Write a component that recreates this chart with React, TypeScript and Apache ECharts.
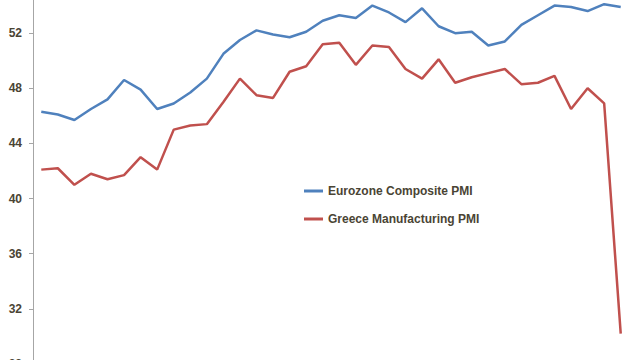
import React, { useEffect, useRef } from "react";
import * as echarts from "echarts";

const months = [
  "Apr-17", "May-17", "Jun-17", "Jul-17", "Aug-17", "Sep-17", "Oct-17", "Nov-17", "Dec-17",
  "Jan-18", "Feb-18", "Mar-18", "Apr-18", "May-18", "Jun-18", "Jul-18", "Aug-18", "Sep-18",
  "Oct-18", "Nov-18", "Dec-18", "Jan-19", "Feb-19", "Mar-19", "Apr-19", "May-19", "Jun-19",
  "Jul-19", "Aug-19", "Sep-19", "Oct-19", "Nov-19", "Dec-19", "Jan-20", "Feb-20", "Mar-20",
];

const eurozoneComposite = [
  46.3, 46.1, 45.7, 46.5, 47.2, 48.6, 47.9, 46.5, 46.9, 47.7, 48.7, 50.5,
  51.5, 52.2, 51.9, 51.7, 52.1, 52.9, 53.3, 53.1, 54.0, 53.5, 52.8, 53.8,
  52.5, 52.0, 52.1, 51.1, 51.4, 52.6, 53.3, 54.0, 53.9, 53.6, 54.1, 53.9,
];

const greeceManufacturing = [
  42.1, 42.2, 41.0, 41.8, 41.4, 41.7, 43.0, 42.1, 45.0, 45.3, 45.4, 47.0,
  48.7, 47.5, 47.3, 49.2, 49.6, 51.2, 51.3, 49.7, 51.1, 51.0, 49.4, 48.7,
  50.1, 48.4, 48.8, 49.1, 49.4, 48.3, 48.4, 48.9, 46.5, 48.0, 46.9, 30.2,
];

const seriesNames = ["Eurozone Composite PMI", "Greece Manufacturing PMI"];
const seriesColors = ["#4F81BD", "#C0504D"];

export default function App() {
  const ref = useRef<HTMLDivElement>(null);
  useEffect(() => {
    if (!ref.current) return;
    const chart = echarts.init(ref.current, null, { renderer: "svg" });
    const textColor = "#4a4434";
    chart.setOption({
      animation: false,
      backgroundColor: "#ffffff",
      grid: { left: 33, right: 11, top: 0, bottom: 8, containLabel: false },
      legend: {
        orient: "vertical",
        left: 299,
        top: 207,
        itemGap: 14,
        itemWidth: 19,
        itemHeight: 3,
        icon: "rect",
        textStyle: {
          fontFamily: "Liberation Sans, Arial, sans-serif",
          fontSize: 12,
          fontWeight: "bold",
          color: textColor,
          lineHeight: 14,
        },
        data: seriesNames,
      },
      xAxis: {
        type: "category",
        data: months,
        boundaryGap: true,
        axisLine: { show: true, lineStyle: { color: "#a6a6a6" } },
        axisTick: { show: false },
        axisLabel: { show: false },
      },
      yAxis: {
        type: "value",
        min: 28,
        max: 56,
        interval: 4,
        splitLine: { show: false },
        axisLine: { show: true, lineStyle: { color: "#a6a6a6", width: 1 } },
        axisTick: { show: true, length: 4, lineStyle: { color: "#a6a6a6" } },
        axisLabel: {
          margin: 11,
          fontFamily: "Liberation Sans, Arial, sans-serif",
          fontSize: 12,
          fontWeight: "bold",
          color: textColor,
        },
      },
      series: [
        {
          name: seriesNames[0],
          type: "line",
          data: eurozoneComposite,
          symbol: "none",
          lineStyle: { color: seriesColors[0], width: 2.5 },
          itemStyle: { color: seriesColors[0] },
        },
        {
          name: seriesNames[1],
          type: "line",
          data: greeceManufacturing,
          symbol: "none",
          lineStyle: { color: seriesColors[1], width: 2.5 },
          itemStyle: { color: seriesColors[1] },
        },
      ],
    });
    return () => chart.dispose();
  }, []);
  return (
    <div style={{ position: "fixed", left: 0, top: 0, width: 640, height: 360, overflow: "hidden", background: "#fff" }}>
      <div ref={ref} style={{ position: "absolute", left: 0, top: -28, width: 640, height: 400 }} />
    </div>
  );
}
